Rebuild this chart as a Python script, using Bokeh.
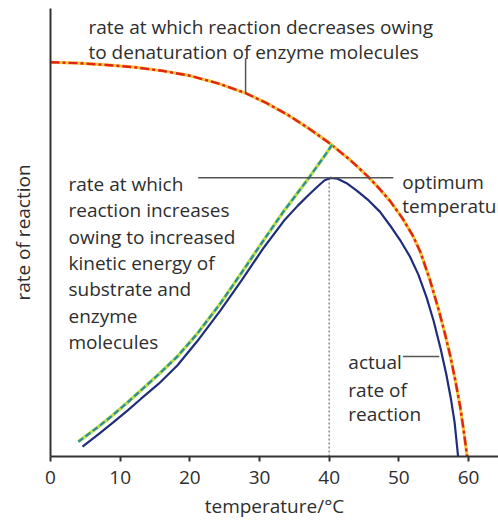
from bokeh.plotting import figure
from bokeh.models import Range1d, FixedTicker, Label
from bokeh.embed import file_html
from bokeh.resources import INLINE

# ---- data ----
# actual rate of reaction (blue)
blue_t = [4.6, 7.0, 9.0, 11.0, 13.0, 15.5, 18.2, 21.0, 24.4, 27.5, 30.6, 33.5, 35.5,
          37.0, 38.3, 39.3, 40.2, 41.2, 42.5, 44.0, 45.7, 47.3, 49.0, 50.3, 51.6,
          52.8, 54.0, 55.0, 56.0, 56.8, 57.5, 58.0, 58.5]
blue_r = [2.2, 5.1, 7.6, 10.2, 12.9, 16.2, 20.3, 25.6, 32.6, 39.5, 46.6, 52.6, 56.0,
          58.3, 60.2, 61.6, 62.2, 62.0, 61.0, 59.3, 57.1, 54.6, 51.0, 48.0, 44.6,
          40.6, 35.4, 30.2, 24.0, 18.4, 12.6, 7.6, 0.0]
# rate increase due to kinetic energy (green)
green_t = [4.0, 7.0, 9.0, 11.0, 13.0, 15.5, 18.2, 21.0, 24.4, 27.5, 30.6, 33.5, 36.9,
           39.7, 40.5]
green_r = [3.3, 6.8, 9.3, 12.0, 14.8, 18.3, 22.3, 27.3, 34.2, 41.2, 48.3, 54.8, 61.8,
           67.9, 69.8]
# rate decrease due to denaturation (red)
red_t = [0.0, 4.0, 8.0, 12.0, 16.0, 20.0, 24.0, 28.0, 31.0, 34.0, 37.0, 40.0, 43.0,
         45.5, 47.2, 48.8, 50.5, 52.0, 53.1, 54.4, 55.7, 56.6, 57.4, 58.1, 58.8, 59.3,
         59.8]
red_r = [88.0, 87.8, 87.4, 86.9, 86.1, 85.0, 83.3, 81.1, 78.9, 76.3, 73.3, 70.0, 66.2,
         62.6, 59.8, 56.9, 53.2, 49.3, 45.6, 39.7, 32.8, 27.5, 22.3, 17.0, 11.1, 5.8,
         0.0]
optimum_t = 40.0
x_ticks = [0, 10, 20, 30, 40, 50, 60]

FONT = "Open Sans"
TXT = "#2e2e2e"
FS = "19px"

p = figure(width=498, height=521, output_backend="svg", toolbar_location=None,
           x_range=Range1d(0, 64.3), y_range=Range1d(0, 100),
           min_border_left=50, min_border_right=0, min_border_top=8,
           min_border_bottom=64)
p.outline_line_color = None
p.xgrid.visible = False
p.ygrid.visible = False
p.background_fill_color = "white"

# x axis
xa = p.xaxis[0]
xa.ticker = FixedTicker(ticks=x_ticks)
xa.minor_tick_line_color = None
xa.major_tick_in = 0
xa.major_tick_out = 5
xa.major_tick_line_width = 2
xa.major_tick_line_color = "#333333"
xa.axis_line_width = 2
xa.axis_line_color = "#333333"
xa.major_label_text_font = FONT
xa.major_label_text_font_size = FS
xa.major_label_text_color = TXT
xa.major_label_standoff = 9
xa.axis_label = "temperature/°C"
xa.axis_label_text_font = FONT
xa.axis_label_text_font_size = FS
xa.axis_label_text_font_style = "normal"
xa.axis_label_text_color = TXT
xa.axis_label_standoff = 6

# y axis
ya = p.yaxis[0]
ya.ticker = FixedTicker(ticks=[])
ya.minor_tick_line_color = None
ya.major_tick_line_color = None
ya.major_label_text_font_size = "0px"
ya.axis_line_width = 2
ya.axis_line_color = "#333333"
ya.axis_label = "rate of reaction"
ya.axis_label_text_font = FONT
ya.axis_label_text_font_size = FS
ya.axis_label_text_font_style = "normal"
ya.axis_label_text_color = TXT
ya.axis_label_standoff = 15

# dotted optimum line
peak_r = max(blue_r)
p.segment(x0=[optimum_t], y0=[0], x1=[optimum_t], y1=[peak_r],
          line_color="#8a8a8a", line_width=1.5, line_dash="2 2")

# red (denaturation) curve
p.line(red_t, red_r, line_color="#f4c63d", line_width=3.2)
p.line(red_t, red_r, line_color="#e2231a", line_width=2.4, line_dash="9 3 3 3")

# green (kinetic) curve
p.line(green_t, green_r, line_color="#b9dd4c", line_width=3.4)
p.line(green_t, green_r, line_color="#2a8f98", line_width=2.2, line_dash="6 3")

# blue (actual) curve
p.line(blue_t, blue_r, line_color="#1f2d7a", line_width=2.2)

# pointer lines
p.segment(x0=[28.0], y0=[88.9], x1=[28.0], y1=[81.1], line_color="#555555", line_width=1.5)
p.segment(x0=[21.2], y0=[peak_r], x1=[49.2], y1=[peak_r], line_color="#555555", line_width=1.5)
p.segment(x0=[50.6], y0=[22.3], x1=[55.8], y1=[22.3], line_color="#555555", line_width=1.5)


def add_lines(x, ys, lines):
    for yy, s in zip(ys, lines):
        p.add_layout(Label(x=x, y=yy, text=s, text_font=FONT, text_font_size=FS,
                           text_color=TXT, text_baseline="alphabetic", text_align="left"))


add_lines(5.45, [95.8, 90.2], ["rate at which reaction decreases owing",
                               "to denaturation of enzyme molecules"])
add_lines(2.58, [60.8, 55.0, 49.1, 43.2, 37.3, 31.4, 25.6],
          ["rate at which", "reaction increases", "owing to increased",
           "kinetic energy of", "substrate and", "enzyme", "molecules"])
add_lines(50.5, [61.2, 55.9], ["optimum", "temperature"])
add_lines(42.75, [21.2, 14.9, 9.4], ["actual", "rate of", "reaction"])

open("out.html", "w").write(file_html(p, INLINE))
